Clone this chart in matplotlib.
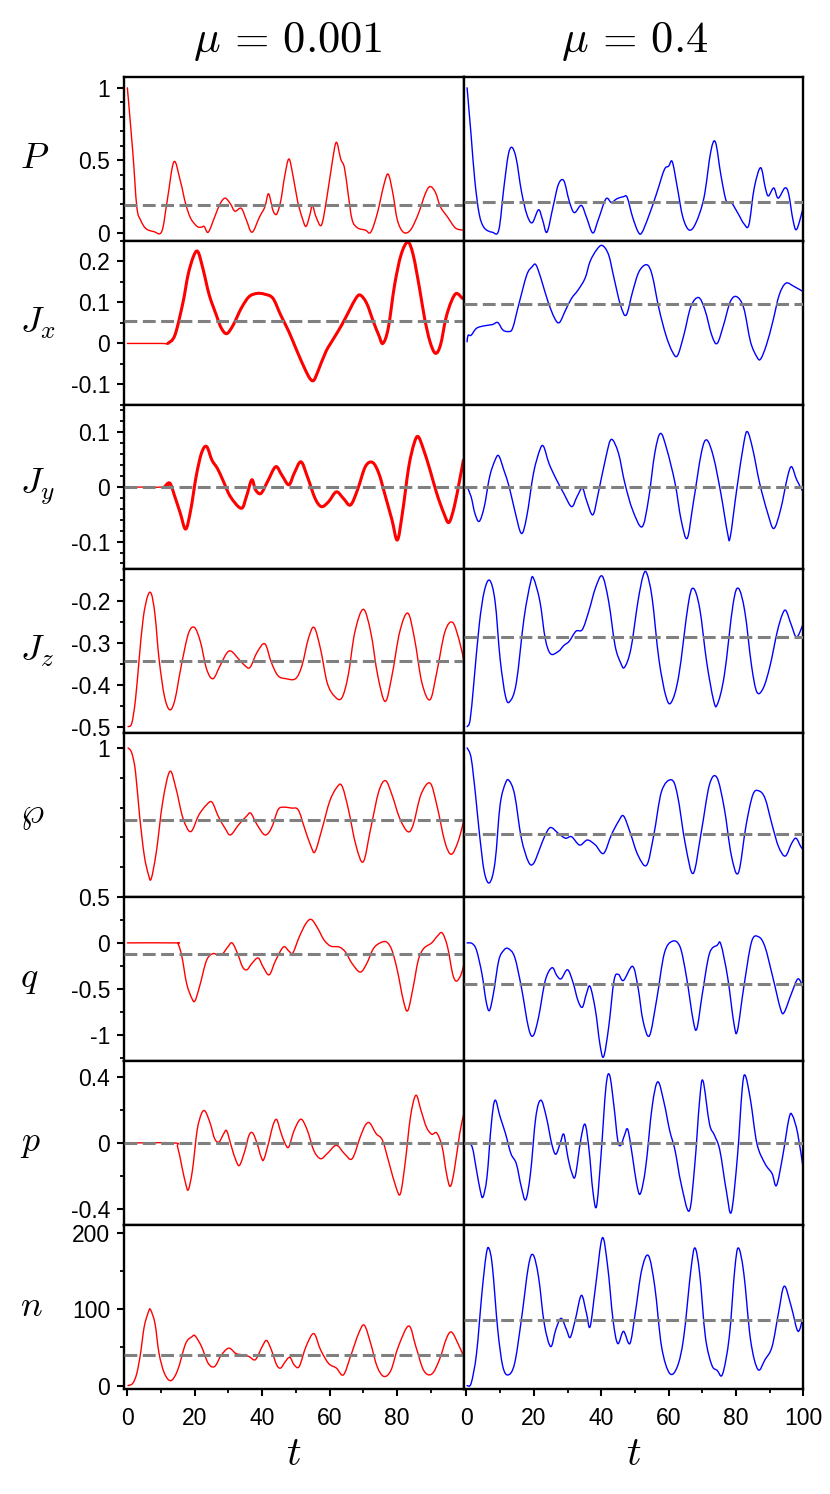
import matplotlib
matplotlib.use("Agg")
import matplotlib.pyplot as plt
from matplotlib.path import Path
from matplotlib.patches import PathPatch
from matplotlib.ticker import MultipleLocator, FixedLocator, FuncFormatter

plt.rcParams['mathtext.fontset'] = 'cm'
plt.rcParams['font.family'] = ['Liberation Sans', 'DejaVu Sans']
plt.rcParams['axes.unicode_minus'] = False

# ---- data: (t, value) pairs ----
P_red = [(0, 1.0), (1.6, 0.56), (2.8, 0.18), (3.9, 0.09), (5.5, 0.03), (7.8, 0.01), (10.2, 0.01), (11.8, 0.22),
         (13.8, 0.49), (15.7, 0.36), (17.3, 0.2), (18.8, 0.1), (20.7, 0.045), (22, 0.04), (22.8, 0.045), (24, 0.005),
         (25.9, 0.11), (27.5, 0.2), (29, 0.24), (30.6, 0.2), (31.9, 0.15), (33.8, 0.17), (35.3, 0.09), (37, 0.005),
         (39.2, 0.11), (40.8, 0.18), (41.9, 0.27), (43.2, 0.155), (44.3, 0.13), (45.5, 0.22), (46.6, 0.38),
         (47.9, 0.51), (49.1, 0.4), (50.5, 0.22), (51.8, 0.11), (53, 0.045), (54.2, 0.13), (54.9, 0.19), (56, 0.11),
         (57.6, 0.055), (59.2, 0.245), (60.8, 0.49), (62, 0.625), (63.3, 0.51), (64.4, 0.45), (65.5, 0.27),
         (66.7, 0.09), (68.3, 0.035), (70.6, 0.02), (72.2, 0.005), (74.1, 0.13), (76.1, 0.33), (77.4, 0.405),
         (78.8, 0.27), (80.1, 0.09), (81.9, 0.005), (84, 0.02), (86.3, 0.13), (88.4, 0.27), (89.8, 0.32),
         (91.4, 0.28), (92.9, 0.18), (95, 0.11), (97.3, 0.035), (99.4, 0.02)]
P_blue = [(0.2, 1.0), (1.4, 0.67), (2.5, 0.36), (3.8, 0.13), (5.3, 0.035), (7.7, 0.005), (9.6, 0.02), (11.1, 0.31),
          (12.4, 0.535), (13.5, 0.59), (14.8, 0.51), (16.3, 0.29), (17.9, 0.13), (19.5, 0.07), (21.4, 0.16),
          (22.6, 0.09), (23.9, 0.005), (25.7, 0.18), (27.3, 0.335), (28.9, 0.36), (30.5, 0.22), (32, 0.14),
          (34.1, 0.19), (35.6, 0.11), (37.5, 0.0), (39.1, 0.09), (41.4, 0.235), (43, 0.21), (44.6, 0.235),
          (46.6, 0.25), (47.7, 0.245), (49.3, 0.11), (50.9, 0.01), (52, 0.0), (54, 0.11), (56.4, 0.27),
          (58.7, 0.435), (60, 0.46), (61.1, 0.49), (62.6, 0.31), (64.2, 0.11), (66.1, 0.02), (68.1, 0.07),
          (70.5, 0.245), (72.5, 0.56), (73.9, 0.625), (75.5, 0.4), (77.1, 0.22), (78.6, 0.21), (80.7, 0.13),
          (82.3, 0.065), (83.8, 0.055), (85.4, 0.31), (87.3, 0.45), (88.7, 0.31), (89.6, 0.255), (91.2, 0.31),
          (92.5, 0.24), (94.5, 0.31), (95.6, 0.27), (96.9, 0.09), (98, 0.025), (100, 0.18)]

Jx_red = [(0, 0.0), (10.2, 0.0), (12, 0.0), (14.1, 0.02), (16.5, 0.10), (18, 0.167), (19.6, 0.212), (20.9, 0.224),
          (22.4, 0.183), (24.3, 0.118), (26.4, 0.069), (27.9, 0.037), (29.5, 0.024), (31.4, 0.045), (33.8, 0.086),
          (36.1, 0.114), (38.5, 0.122), (40.8, 0.12), (43.2, 0.11), (45.5, 0.069), (47.9, 0.029), (50.2, -0.016),
          (52.6, -0.061), (54.2, -0.086), (55.3, -0.09), (56.5, -0.069), (58.9, -0.02), (61.2, 0.012),
          (63.6, 0.045), (65.9, 0.081), (67.8, 0.11), (69.1, 0.118), (71, 0.098), (73, 0.053), (74.6, 0.02),
          (75.8, 0.0), (77.4, 0.037), (79.3, 0.143), (81.2, 0.216), (83.2, 0.247), (84.8, 0.216), (86.7, 0.134),
          (88.2, 0.061), (89.8, 0.004), (91.4, -0.024), (92.9, -0.004), (94.5, 0.061), (96.1, 0.102),
          (97.6, 0.122), (99.4, 0.11)]
Jx_blue = [(0.2, 0.004), (0.5, 0.02), (1.4, 0.02), (3, 0.037), (5.3, 0.043), (7.7, 0.046), (9.3, 0.051),
           (10.8, 0.033), (12.4, 0.029), (13.7, 0.037), (15.5, 0.094), (17.9, 0.167), (19.5, 0.187), (20.6, 0.192),
           (22.1, 0.159), (24.2, 0.102), (26.2, 0.061), (27.6, 0.051), (29.4, 0.081), (31.2, 0.11), (33.1, 0.13),
           (35.2, 0.159), (36.7, 0.2), (38.6, 0.228), (40.3, 0.239), (42.2, 0.216), (43.8, 0.159), (45.7, 0.094),
           (47.4, 0.069), (49.3, 0.126), (51.2, 0.175), (53.5, 0.192), (55.1, 0.167), (57.1, 0.086), (59.2, 0.02),
           (61.1, -0.02), (62.6, -0.03), (64.5, 0.02), (66.6, 0.09), (68.9, 0.112), (70.8, 0.081), (72.8, 0.02),
           (74.4, 0.0), (76.3, 0.045), (78.3, 0.102), (80.2, 0.114), (82.3, 0.086), (84.3, 0.004), (86.2, -0.033),
           (87.3, -0.038), (89, -0.004), (90.9, 0.053), (92.8, 0.118), (94.8, 0.147), (97.2, 0.139), (100, 0.126)]

Jy_red = [(0, 0.0), (11, 0.0), (12.6, 0.007), (14.1, -0.018), (15.7, -0.048), (17.3, -0.077), (18.8, -0.042),
          (20.4, 0.019), (22, 0.062), (23.5, 0.074), (25.1, 0.049), (26.7, 0.034), (28.3, 0.013), (30.6, -0.018),
          (33.8, -0.039), (35.3, -0.018), (36.9, 0.013), (38, -0.005), (39.6, -0.012), (41.6, 0.01), (44, 0.037),
          (45.8, 0.022), (47.9, 0.004), (49.5, 0.025), (51.5, 0.046), (53.4, 0.019), (55.7, -0.021),
          (57.6, -0.036), (59.7, -0.027), (62, -0.009), (64.1, -0.021), (66.2, -0.033), (68.3, -0.005),
          (70.6, 0.037), (72.7, 0.045), (74.6, 0.025), (76.6, -0.018), (78.5, -0.06), (80.1, -0.097),
          (81.6, -0.048), (83.5, 0.037), (85.1, 0.08), (86.3, 0.092), (87.9, 0.068), (89.8, 0.031),
          (91.8, -0.012), (93.9, -0.048), (95.4, -0.065), (97, -0.036), (98.6, 0.013), (99.7, 0.049)]
Jy_blue = [(0.2, 0.0), (1.4, -0.018), (2.5, -0.048), (3.8, -0.063), (5.3, -0.036), (6.9, 0.019), (8.5, 0.049),
           (9.6, 0.057), (11.1, 0.031), (12.7, 0.0), (14.3, -0.042), (16.3, -0.085), (17.9, -0.054), (19.9, 0.025),
           (21.8, 0.068), (22.9, 0.074), (24.5, 0.043), (26.5, 0.016), (28.9, -0.012), (31.2, -0.036),
           (32.8, -0.018), (34.4, -0.002), (35.6, -0.024), (37.5, -0.051), (39.1, -0.012), (41.4, 0.055),
           (43, 0.087), (45.1, 0.062), (47, 0.007), (49.3, -0.042), (52.1, -0.073), (54, -0.024), (55.9, 0.062),
           (57.6, 0.098), (59.5, 0.068), (61.9, 0.007), (63.7, -0.06), (65.5, -0.094), (67.3, -0.03),
           (69.7, 0.062), (71.3, 0.086), (73.3, 0.055), (75.5, -0.012), (77.5, -0.085), (78.3, -0.091),
           (80.2, -0.005), (82.3, 0.08), (83.4, 0.101), (85, 0.068), (87, 0.007), (89.4, -0.048), (91.2, -0.076),
           (93.2, -0.042), (95.3, 0.019), (96.5, 0.037), (98, 0.013), (100, -0.01)]

Jz_red = [(0.2, -0.498), (1.3, -0.49), (2.4, -0.434), (3.5, -0.337), (4.7, -0.24), (6, -0.188), (7.1, -0.182),
          (8.2, -0.232), (9.4, -0.337), (11, -0.426), (12.6, -0.458), (14.1, -0.434), (16, -0.353), (18.1, -0.277),
          (19.9, -0.262), (21.7, -0.297), (23.5, -0.361), (25.4, -0.384), (27.5, -0.353), (29.5, -0.323),
          (30.9, -0.319), (33, -0.337), (34.9, -0.353), (36.4, -0.357), (38.5, -0.321), (40.8, -0.301),
          (42.7, -0.345), (44.7, -0.377), (47.1, -0.384), (49.9, -0.384), (51.8, -0.353), (53.7, -0.289),
          (55.4, -0.262), (57.3, -0.313), (59.3, -0.394), (61.5, -0.426), (63.6, -0.43), (65.5, -0.377),
          (67.5, -0.273), (70, -0.219), (72.2, -0.273), (74.3, -0.377), (76.5, -0.438), (78.5, -0.377),
          (80.8, -0.273), (83.2, -0.228), (85.2, -0.289), (87.4, -0.394), (89.8, -0.434), (91.8, -0.369),
          (94.2, -0.273), (96.5, -0.25), (98.6, -0.297), (99.8, -0.341)]
Jz_blue = [(0.2, -0.498), (1.1, -0.482), (2.2, -0.394), (3.8, -0.256), (5.3, -0.176), (6.9, -0.15), (8.5, -0.2),
           (10, -0.337), (11.6, -0.426), (12.9, -0.438), (14.8, -0.394), (17.1, -0.24), (19, -0.156),
           (19.9, -0.145), (21.8, -0.2), (23.4, -0.289), (25, -0.325), (27.3, -0.319), (28.9, -0.305),
           (30.5, -0.295), (32.5, -0.271), (34.4, -0.267), (36.3, -0.224), (38.3, -0.168), (40.3, -0.14),
           (42.2, -0.2), (44.1, -0.305), (45.7, -0.345), (46.9, -0.357), (48.8, -0.313), (50.9, -0.2),
           (52.4, -0.14), (53.5, -0.133), (55.1, -0.192), (57.1, -0.337), (59.2, -0.426), (60.8, -0.44),
           (63, -0.377), (65.8, -0.208), (67.3, -0.169), (69.2, -0.216), (71.3, -0.345), (73.3, -0.434),
           (74.4, -0.446), (76.5, -0.377), (79.1, -0.208), (80.7, -0.169), (82.6, -0.224), (84.6, -0.353),
           (86.2, -0.416), (88.1, -0.406), (90.1, -0.353), (92.2, -0.273), (93.7, -0.232), (94.8, -0.222),
           (96.4, -0.256), (98, -0.285), (100, -0.252)]

wp_red = [(0.2, 1.0), (1.3, 0.983), (2.4, 0.921), (3.6, 0.775), (5, 0.64), (6.3, 0.573), (7.1, 0.562), (8.6, 0.652),
          (10.5, 0.82), (12.6, 0.921), (14.4, 0.865), (16.5, 0.764), (18.8, 0.719), (21.2, 0.775), (23.5, 0.809),
          (25.1, 0.818), (27, 0.77), (29, 0.73), (30.6, 0.708), (33, 0.742), (35.3, 0.77), (36.6, 0.781),
          (38.5, 0.742), (40.8, 0.708), (42.7, 0.73), (44.7, 0.792), (46.3, 0.801), (48.7, 0.798), (50.7, 0.792),
          (52.6, 0.73), (54.5, 0.669), (55.7, 0.652), (57.8, 0.73), (60, 0.82), (62, 0.865), (63.6, 0.874),
          (65.5, 0.798), (67.8, 0.674), (70, 0.618), (72.2, 0.73), (74.6, 0.854), (76.6, 0.89), (78.5, 0.843),
          (80.8, 0.764), (83.2, 0.719), (84.8, 0.742), (87.1, 0.843), (89.8, 0.882), (91.8, 0.809), (94.2, 0.685),
          (96.1, 0.643), (98.1, 0.685), (99.8, 0.755)]
wp_blue = [(0.2, 1.0), (1.4, 0.966), (2.7, 0.843), (3.8, 0.719), (5.3, 0.584), (6.9, 0.548), (8.5, 0.618),
           (10, 0.809), (11.6, 0.882), (12.7, 0.89), (14.3, 0.843), (16.3, 0.697), (18.4, 0.618), (19.9, 0.612),
           (21.8, 0.663), (23.4, 0.708), (25, 0.733), (27.3, 0.713), (29.4, 0.697), (31.2, 0.702), (33.6, 0.674),
           (35.9, 0.691), (38.3, 0.674), (40.7, 0.646), (43, 0.708), (45.1, 0.753), (46.6, 0.772), (48.5, 0.719),
           (50.9, 0.64), (53.5, 0.607), (55.6, 0.708), (57.9, 0.854), (60.8, 0.893), (62.6, 0.843), (65, 0.674),
           (67.3, 0.579), (69.7, 0.719), (72.1, 0.876), (74.3, 0.901), (76.5, 0.798), (78.6, 0.64), (80.7, 0.581),
           (83, 0.742), (85, 0.843), (86.7, 0.856), (88.6, 0.831), (90.7, 0.742), (92.6, 0.669), (94.6, 0.637),
           (96.5, 0.68), (97.8, 0.697), (99.2, 0.669), (100, 0.657)]

q_red = [(0, 0.0), (14.1, 0.0), (15.1, -0.015), (16.2, -0.153), (17.6, -0.445), (19.2, -0.609), (20.1, -0.628),
         (21.5, -0.464), (23.5, -0.19), (25.4, -0.117), (27, -0.135), (28.3, -0.117), (29.8, -0.044), (31.1, 0.0),
         (32.7, -0.117), (34.2, -0.263), (35.5, -0.292), (36.9, -0.226), (38.8, -0.164), (40.3, -0.263),
         (42.1, -0.347), (44, -0.19), (46.3, -0.044), (47.9, -0.088), (49.1, -0.109), (51, 0.066), (53, 0.212),
         (54.6, 0.255), (56.5, 0.157), (58.4, 0.029), (60.4, -0.036), (62.8, -0.044), (64.7, -0.099),
         (66.7, -0.226), (69.1, -0.318), (71, -0.226), (73, -0.062), (75, 0.0), (76.9, 0.01), (78.5, -0.08),
         (80.1, -0.299), (81.9, -0.628), (83.2, -0.737), (84.8, -0.482), (86.3, -0.19), (87.9, -0.062),
         (90.3, 0.0), (91.8, 0.066), (93.4, 0.109), (95, -0.044), (96.5, -0.336), (97.6, -0.416), (98.9, -0.354),
         (99.8, -0.245)]
q_blue = [(0.2, 0.0), (1.7, -0.007), (3, -0.08), (4.6, -0.336), (5.8, -0.628), (6.8, -0.737), (8, -0.555),
          (9.6, -0.19), (11.1, -0.08), (12.4, -0.062), (14.3, -0.153), (16.3, -0.482), (18.4, -0.92), (19.8, -1.011),
          (21.4, -0.81), (23.4, -0.409), (25.4, -0.27), (26.8, -0.354), (28.1, -0.391), (30, -0.292),
          (31.6, -0.427), (33.1, -0.628), (34.4, -0.7), (35.6, -0.555), (36.7, -0.474), (38.3, -0.737),
          (39.6, -1.1), (40.7, -1.24), (42.2, -0.92), (43.8, -0.409), (45.1, -0.343), (46.6, -0.409),
          (49.3, -0.255), (50.9, -0.482), (52.4, -0.847), (54.3, -1.011), (56.4, -0.628), (58.7, -0.117),
          (61.1, 0.018), (63.4, -0.044), (65.3, -0.372), (67.3, -0.847), (68.4, -0.931), (70, -0.555),
          (72.1, -0.117), (74.4, -0.026), (75.5, -0.015), (77.5, -0.372), (79.4, -0.883), (80.4, -0.956),
          (82.3, -0.482), (84.6, 0.011), (86.7, 0.066), (88.6, -0.044), (90.9, -0.372), (93.2, -0.719),
          (94.3, -0.755), (96.4, -0.555), (98.4, -0.391), (100, -0.5)]

p_red = [(0, 0.0), (13.8, 0.0), (14.9, -0.024), (16.2, -0.147), (17.3, -0.248), (18.1, -0.285), (19.3, -0.167),
         (20.7, 0.077), (22, 0.179), (23.1, 0.193), (24.6, 0.118), (25.9, 0.026), (27.2, 0.006), (28.6, 0.057),
         (29.5, 0.073), (30.9, -0.024), (32.2, -0.106), (33.3, -0.136), (34.9, -0.045), (36.1, 0.047),
         (37.2, 0.061), (38.5, -0.004), (39.7, -0.086), (40.5, -0.1), (42.1, 0.016), (43.2, 0.108), (44.3, 0.143),
         (45.5, 0.067), (46.8, -0.004), (47.9, -0.024), (49.5, 0.077), (51.5, 0.145), (53.4, 0.077),
         (55.3, -0.045), (57.3, -0.096), (59.3, -0.065), (62, -0.014), (64.4, -0.065), (66.7, -0.096),
         (69.1, 0.037), (70.6, 0.108), (71.9, 0.122), (73.8, 0.057), (75.7, 0.016), (77.7, -0.126),
         (79.7, -0.269), (81, -0.31), (82.4, -0.126), (84, 0.159), (85.6, 0.291), (87.1, 0.2), (88.7, 0.098),
         (90.3, 0.053), (91.8, 0.061), (93.4, -0.024), (94.7, -0.187), (95.8, -0.265), (97, -0.167),
         (98.6, 0.057), (99.8, 0.175)]
p_blue = [(0.2, 0.0), (1.7, -0.024), (3, -0.167), (4.1, -0.289), (4.9, -0.33), (6.1, -0.208), (7.4, 0.118),
          (8.5, 0.261), (10, 0.159), (11.6, 0.057), (13.2, -0.065), (14.8, -0.126), (16.3, -0.269), (17.6, -0.346),
          (19, -0.187), (20.6, 0.159), (22.1, 0.261), (23.7, 0.159), (25.3, -0.004), (26.5, -0.069),
          (27.8, -0.004), (28.9, 0.053), (30.1, -0.086), (31.2, -0.177), (32.3, -0.202), (33.9, 0.016),
          (35.2, 0.114), (36.4, -0.045), (37.5, -0.289), (38.6, -0.387), (39.9, -0.086), (41.4, 0.342),
          (42.5, 0.413), (43.8, 0.22), (44.9, 0.016), (45.8, -0.014), (46.9, 0.047), (47.9, 0.081),
          (49.3, -0.086), (50.5, -0.248), (51.6, -0.31), (53.2, -0.147), (55.1, 0.22), (56.8, 0.373),
          (58.7, 0.24), (60.3, 0.077), (61.9, -0.045), (63.7, -0.248), (66.1, -0.415), (67.7, -0.147),
          (69.2, 0.261), (70.2, 0.379), (72.1, 0.118), (73.6, 0.047), (75.2, -0.045), (77.1, -0.289),
          (78.6, -0.422), (80.4, -0.086), (81.8, 0.322), (82.7, 0.413), (84.3, 0.261), (86.2, -0.004),
          (88.6, -0.126), (90.7, -0.187), (92, -0.259), (93.8, -0.086), (95.7, 0.149), (96.7, 0.169),
          (98.3, 0.057), (100, -0.167)]

n_red = [(0.2, 0), (1.6, 3), (2.8, 16), (3.9, 42), (5, 77), (6.3, 97), (6.9, 99), (8.2, 81), (9.4, 42), (11, 16),
         (12.9, 6.5), (14.9, 20), (17.3, 55), (19.2, 64), (20.1, 65), (22, 51), (24, 29), (25.9, 25), (27.9, 40),
         (30.1, 49), (32.2, 42), (34.5, 40), (36.1, 38), (38, 34), (40, 51), (41.3, 59), (42.7, 47), (44.3, 27),
         (45.5, 23), (46.8, 31), (48.2, 37), (49.5, 27), (51, 25), (53, 51), (55.3, 68), (57.3, 47), (59.7, 29),
         (62, 23), (64.1, 14), (66.2, 38), (68.6, 68), (70.3, 79), (72.2, 55), (74.1, 25), (76.1, 12), (78.2, 20),
         (80.4, 51), (83.5, 78), (85.6, 51), (87.9, 20), (90.3, 15), (92.6, 34), (94.7, 62), (96.2, 70),
         (98.1, 55), (99.8, 38)]
n_blue = [(0.2, 0), (1.4, 3), (3, 42), (4.6, 121), (5.8, 169), (6.6, 180), (7.7, 156), (9.3, 73), (10.8, 25),
          (12.4, 14), (14.3, 29), (16.3, 86), (18.4, 156), (19.8, 171), (21.4, 142), (23.1, 81), (25, 51),
          (26.5, 73), (28.1, 88), (29.7, 73), (30.8, 63), (32.3, 86), (34.1, 118), (35.6, 95), (36.7, 77),
          (38.3, 129), (40.3, 193), (41.9, 156), (43.5, 86), (44.9, 55), (46.6, 71), (48.5, 55), (50.1, 95),
          (52, 151), (54, 170), (55.9, 129), (57.9, 51), (60.3, 16), (62.6, 25), (64.5, 64), (66.6, 151),
          (67.8, 180), (69.2, 147), (70.9, 64), (72.8, 27), (74.4, 20), (76, 15), (78, 64), (79.6, 151),
          (80.7, 180), (82.3, 147), (84.3, 60), (86.5, 21), (88.6, 34), (90.7, 51), (92.6, 95), (94.3, 130),
          (96.4, 103), (98.4, 71), (100, 92)]

# time averages (dashed lines)
mean_red = [0.19, 0.0554, 0.0, -0.341, 0.757, -0.12, 0.0, 39.6]
mean_blue = [0.21, 0.0954, 0.0, -0.285, 0.710, -0.445, 0.0, 86.3]

labels = [r'$P$', r'$J_x$', r'$J_y$', r'$J_z$', r'$\wp$', r'$q$', r'$p$', r'$n$']
red_series = [P_red, Jx_red, Jy_red, Jz_red, wp_red, q_red, p_red, n_red]
blue_series = [P_blue, Jx_blue, Jy_blue, Jz_blue, wp_blue, q_blue, p_blue, n_blue]
ylims = [(-0.055, 1.075), (-0.15, 0.25), (-0.15, 0.15), (-0.513, -0.123),
         (0.5, 1.05), (-1.285, 0.5), (-0.5, 0.5), (-4.4, 210)]
major_ticks = [[0, 0.5, 1], [-0.1, 0, 0.1, 0.2], [-0.1, 0, 0.1], [-0.5, -0.4, -0.3, -0.2],
               [0.5, 1], [-1, -0.5, 0], [-0.4, 0, 0.4], [0, 100, 200]]
minor_step = [0.1, 0.05, 0.02, 0.05, 0.1, 0.25, 0.2, 50]
noisy_rows = [1, 2]   # Jx, Jy for mu=0.001 carry fast jitter -> drawn thick


def smooth_curve(ax, pts, **kw):
    # draw the read points as one smooth Bezier path (Catmull-Rom through the points)
    verts = [pts[0]]
    codes = [Path.MOVETO]
    n = len(pts)
    for k in range(n - 1):
        p0 = pts[k - 1] if k > 0 else pts[k]
        p1, p2 = pts[k], pts[k + 1]
        p3 = pts[k + 2] if k + 2 < n else pts[k + 1]
        c1 = (p1[0] + (p2[0] - p0[0]) / 6, p1[1] + (p2[1] - p0[1]) / 6)
        c2 = (p2[0] - (p3[0] - p1[0]) / 6, p2[1] - (p3[1] - p1[1]) / 6)
        verts += [c1, c2, p2]
        codes += [Path.CURVE4] * 3
    ax.add_patch(PathPatch(Path(verts, codes), facecolor='none', capstyle='round',
                           joinstyle='round', **kw))


fig, axes = plt.subplots(8, 2, figsize=(8.3, 14.94), dpi=100, sharey='row')
fig.subplots_adjust(left=0.1494, right=0.968, top=0.9485, bottom=0.0703, hspace=0, wspace=0)

fmt = FuncFormatter(lambda v, pos: ('%g' % round(v, 6)))

for i in range(8):
    for j, (series, col, mean) in enumerate([(red_series[i], 'red', mean_red[i]),
                                             (blue_series[i], 'blue', mean_blue[i])]):
        ax = axes[i, j]
        smooth_curve(ax, series, edgecolor=col, lw=1.0, zorder=2)
        if j == 0 and i in noisy_rows:
            smooth_curve(ax, [pt for pt in series if pt[0] >= 11], edgecolor=col, lw=2.2, zorder=2)
        ax.axhline(mean, color='#808080', lw=2.2, ls=(0, (4.2, 1.8)), zorder=3)
        ax.set_ylim(*ylims[i])
        ax.set_xlim(-1.0, 99.8) if j == 0 else ax.set_xlim(-0.8, 100)
        for s in ax.spines.values():
            s.set_linewidth(1.7)
        ax.xaxis.set_major_locator(MultipleLocator(20))
        ax.xaxis.set_minor_locator(MultipleLocator(10))
        ax.yaxis.set_major_locator(FixedLocator(major_ticks[i]))
        ax.yaxis.set_minor_locator(MultipleLocator(minor_step[i]))
        ax.yaxis.set_major_formatter(fmt)
        ax.xaxis.set_major_formatter(fmt)
        ax.tick_params(which='major', direction='out', length=5, width=1.5, labelsize=16.5, pad=5)
        ax.tick_params(which='minor', direction='out', length=3, width=1.3)
        ax.tick_params(axis='x', which='both', bottom=(i == 7), top=False, labelbottom=(i == 7), pad=8)
        ax.tick_params(axis='y', which='both', left=(j == 0), right=False, labelleft=(j == 0))

    fig.text(20 / 830, (axes[i, 0].get_position().y0 + axes[i, 0].get_position().y1) / 2, labels[i],
             fontsize=26, ha='left', va='center')

title_x = [288 / 830, 635 / 830]
for j, title in enumerate([r'$\mu \,=\, 0.001$', r'$\mu \,=\, 0.4$']):
    fig.text(title_x[j], 1 - 52 / 1494, title, fontsize=32, ha='center', va='baseline')
    pos = axes[7, j].get_position()
    fig.text((pos.x0 + pos.x1) / 2, 1 - 1465 / 1494, r'$t$', fontsize=29, ha='center', va='baseline')

fig.savefig('out.png', dpi=100)
